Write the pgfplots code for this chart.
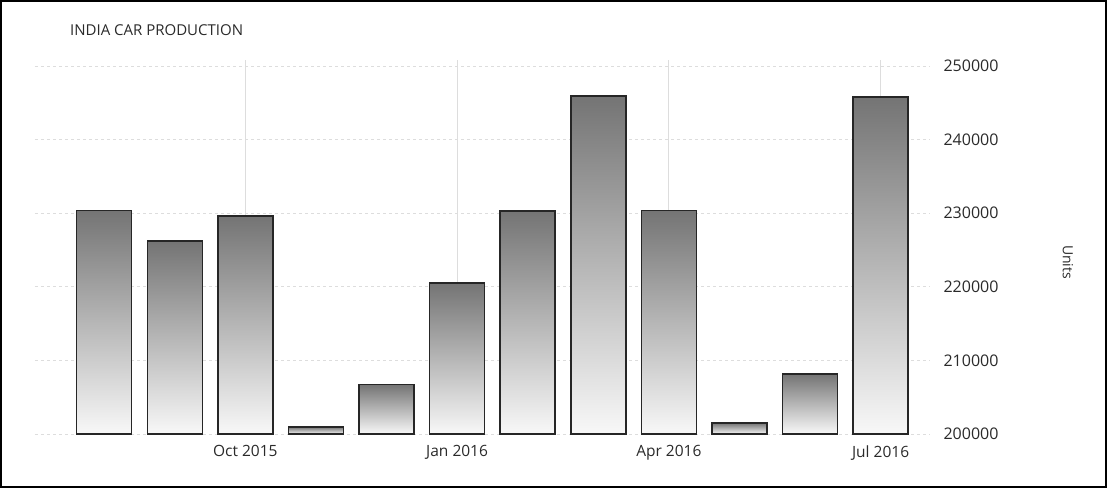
\documentclass[border=0pt]{standalone}
\usepackage{pgfplots}
\pgfplotsset{compat=1.18}
\usepackage{fontspec}
\setmainfont{Open Sans}
\definecolor{barTop}{HTML}{747474}
\definecolor{barBot}{HTML}{F8F8F8}
\definecolor{gridc}{HTML}{DDDDDD}
\definecolor{txt}{HTML}{2A2A2A}
\pgfplotsset{mybar/.style={ybar, bar width=55pt, bar shift=0pt, draw=black!85, line width=1.5pt,
  top color=barTop, bottom color=barBot}}
\begin{document}
\begin{tikzpicture}[x=1pt,y=1pt]
\useasboundingbox (0,0) rectangle (1107,488);
\draw[black,line width=2pt] (1,1) rectangle (1106,487);
\begin{axis}[
  at={(35pt,54pt)}, anchor=south west,
  scale only axis, width=895pt, height=373.9pt,
  xmin=-0.98, xmax=11.7,
  ymin=0, ymax=50800,
  y filter/.expression={y-200000},
  scaled y ticks=false,
  axis line style={draw=none},
  major tick length=0pt,
  xtick={2,5,8,11},
  xticklabels={Oct 2015,Jan 2016,Apr 2016,Jul 2016},
  ytick={0,10000,20000,30000,40000,50000},
  yticklabels={200000,210000,220000,230000,240000,250000},
  yticklabel pos=right,
  xmajorgrids, ymajorgrids,
  x grid style={gridc, line width=0.8pt},
  y grid style={gridc, dashed, line width=0.8pt},
  xticklabel style={font=\fontsize{15.5}{18}\selectfont, text=txt, yshift=-8pt},
  yticklabel style={font=\fontsize{16}{19}\selectfont, text=txt, anchor=west, xshift=10pt},
  clip=false,
]
\addplot[mybar] coordinates {(0,230400)};
\addplot[mybar] coordinates {(1,226200)};
\addplot[mybar] coordinates {(2,229600)};
\addplot[mybar] coordinates {(3,200950)};
\addplot[mybar] coordinates {(4,206700)};
\addplot[mybar] coordinates {(5,220500)};
\addplot[mybar] coordinates {(6,230300)};
\addplot[mybar] coordinates {(7,245900)};
\addplot[mybar] coordinates {(8,230400)};
\addplot[mybar] coordinates {(9,201500)};
\addplot[mybar] coordinates {(10,208150)};
\addplot[mybar] coordinates {(11,245800)};
\end{axis}
\node[anchor=west, font=\fontsize{15}{18}\selectfont, text=txt, inner sep=0pt] at (70,458) {INDIA CAR PRODUCTION};
\node[rotate=-90, font=\fontsize{14}{17}\selectfont, text=txt] at (1068,226) {Units};
\end{tikzpicture}
\end{document}
